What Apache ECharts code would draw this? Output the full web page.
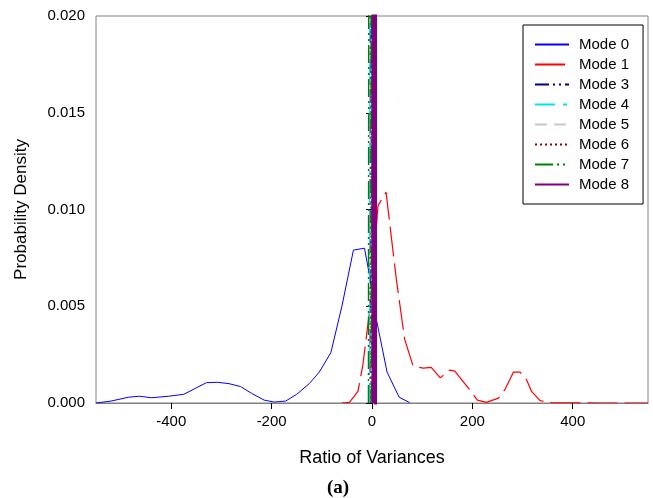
<!DOCTYPE html>
<html>
<head>
<meta charset="utf-8">
<script src="https://cdn.jsdelivr.net/npm/echarts@6/dist/echarts.min.js"></script>
<style>
  html, body { margin: 0; padding: 0; background: #fff; }
  #chart { width: 653px; height: 498px; }
</style>
</head>
<body>
<div id="chart"></div>
<script>
// x 刻度
var xTicks = [-400, -200, 0, 200, 400];
var yTicks = [0, 0.005, 0.010, 0.015, 0.020];

// Mode 0 (蓝色)
var mode0 = [[-550, 0], [-520, 0.0001], [-485, 0.0003], [-463, 0.00035], [-440, 0.00027],
  [-405, 0.00035], [-375, 0.00045], [-330, 0.00105], [-308, 0.00107], [-285, 0.001],
  [-262, 0.00085], [-240, 0.0005], [-215, 0.00015], [-195, 0.00005], [-172, 0.0001],
  [-150, 0.00045], [-125, 0.001], [-105, 0.0016], [-82, 0.0026], [-60, 0.005],
  [-37, 0.0079], [-15, 0.008], [-5, 0.0066], [5, 0.0048], [30, 0.0016], [54, 0.0003], [75, 0.00002]];
// Mode 1 (红色 长虚线)
var mode1 = [[-60, 0], [-45, 0.00003], [-28, 0.0006], [-18, 0.002], [-8, 0.0041], [-2, 0.0053],
  [5, 0.0078], [12, 0.0102], [28, 0.0109], [48, 0.0065], [65, 0.0033], [82, 0.0019],
  [102, 0.0018], [118, 0.00184], [136, 0.0013], [155, 0.0017], [165, 0.00165], [194, 0.0007],
  [210, 0.00015], [228, 0.00003], [252, 0.00025], [265, 0.0007], [282, 0.0016], [295, 0.0016],
  [308, 0.0012], [318, 0.0006], [335, 0.00012], [358, 0.00002], [450, 0], [550, 0]];
// 其他模式 都是 0 附近的尖峰
var mode3 = [[-4, 0], [-3, 0.04], [0, 0.04], [1, 0]];
var mode4 = [[-5, 0], [-4, 0.04], [-1, 0.04], [0, 0]];
var mode5 = [[4, 0], [5, 0.04], [7, 0.04], [8, 0]];
var mode6 = [[-2, 0], [-1, 0.04], [2, 0.04], [3, 0]];
var mode7 = [[-7, 0], [-6, 0.04], [-2, 0.04], [-1, 0]];
var mode8 = [[7, -0.0003], [7, 0.04], [2, 0.04], [2, 0]];

var font = 'Liberation Sans, Arial, sans-serif';

function line(name, data, color, type, width) {
  return {
    name: name,
    type: 'line',
    data: data,
    symbol: 'none',
    showSymbol: false,
    clip: true,
    lineStyle: { color: color, width: width || 1, type: type || 'solid' },
    itemStyle: { color: color },
    emphasis: { disabled: true }
  };
}

var myChart = echarts.init(document.getElementById('chart'), null, { renderer: 'canvas' });
var option = {
  backgroundColor: '#fff',
  animation: false,
  grid: {
    left: 96,
    right: 5,
    top: 16,
    bottom: 95,
    show: true,
    borderColor: '#808080',
    borderWidth: 1
  },
  legend: {
    orient: 'vertical',
    left: 523,
    top: 25,
    width: 116,
    padding: [12, 14, 12, 11],
    itemWidth: 34,
    itemHeight: 14,
    itemGap: 5,
    borderColor: '#000',
    borderWidth: 1,
    backgroundColor: '#fff',
    itemStyle: { opacity: 0 },
    textStyle: { fontFamily: font, fontSize: 15, color: '#000', padding: [0, 0, 0, 5] },
    data: ['Mode 0', 'Mode 1', 'Mode 3', 'Mode 4', 'Mode 5', 'Mode 6', 'Mode 7', 'Mode 8']
  },
  xAxis: {
    type: 'value',
    min: -550,
    max: 550,
    name: 'Ratio of Variances',
    nameLocation: 'middle',
    nameGap: 46,
    nameTextStyle: { fontFamily: font, fontSize: 18, color: '#000' },
    axisLine: { show: true, onZero: false, lineStyle: { color: '#808080', width: 1 } },
    axisTick: { show: true, inside: false, length: 6, customValues: xTicks, lineStyle: { color: '#000' } },
    axisLabel: { customValues: xTicks, margin: 11, fontFamily: font, fontSize: 15, color: '#000' },
    splitLine: { show: false }
  },
  yAxis: {
    type: 'value',
    min: 0,
    max: 0.02,
    interval: 0.005,
    name: 'Probability Density',
    nameLocation: 'middle',
    nameGap: 66,
    nameTextStyle: { fontFamily: font, fontSize: 17, color: '#000' },
    axisLine: { show: true, lineStyle: { color: '#000', width: 1 } },
    axisTick: { show: true, inside: false, length: 6, lineStyle: { color: '#000' } },
    axisLabel: {
      margin: 11, fontFamily: font, fontSize: 15, color: '#000',
      formatter: function (v) { return v.toFixed(3); }
    },
    splitLine: { show: false }
  },
  graphic: [{
    type: 'text',
    left: 327,
    top: 479,
    style: { text: '(a)', font: 'bold 19px "Liberation Serif", "Times New Roman", serif', fill: '#000' }
  }],
  series: [
    line('Mode 0', mode0, '#0000ff', 'solid', 1),
    line('Mode 1', mode1, '#ff0000', [30, 7], 1.2),
    line('Mode 3', mode3, '#000080', [14, 4, 2, 4, 2, 4], 1),
    line('Mode 4', mode4, '#00e5ee', [20, 8, 4, 8], 1),
    line('Mode 5', mode5, '#c8c8c8', [12, 7], 1),
    line('Mode 6', mode6, '#8b0000', [2, 3], 1),
    line('Mode 7', mode7, '#008000', [18, 4, 2, 4, 2, 4], 1.5),
    line('Mode 8', mode8, '#800080', 'solid', 3)
  ]
};
if (option && typeof option === 'object') {
  myChart.setOption(option, true);
}
</script>
</body>
</html>
